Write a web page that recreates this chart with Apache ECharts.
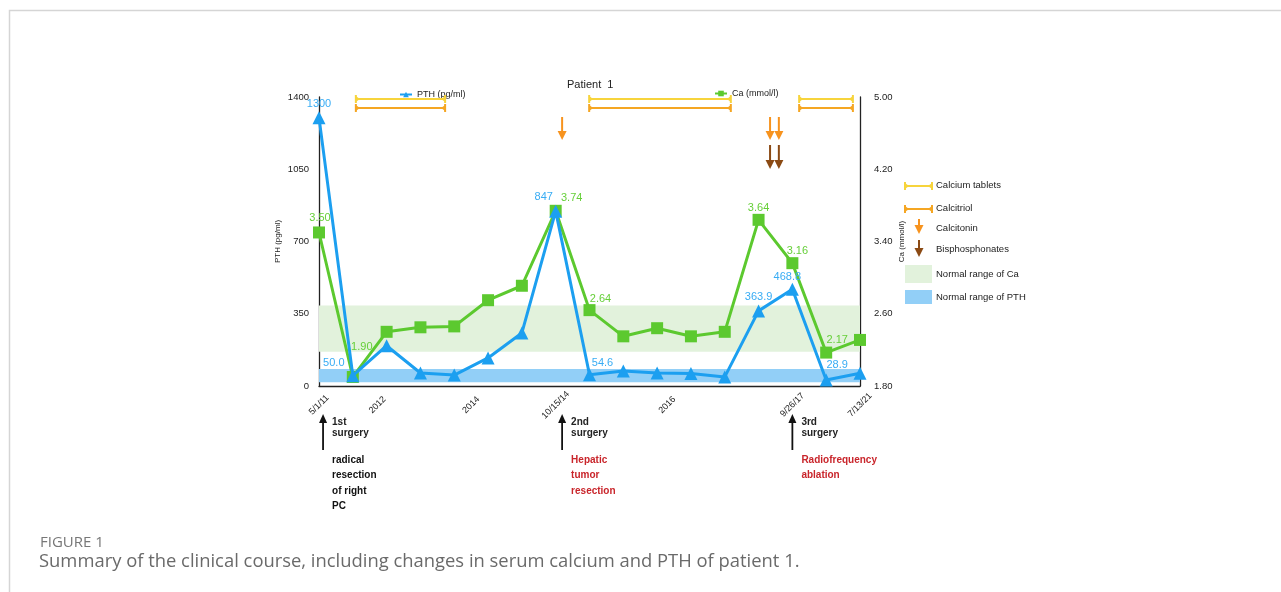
<!DOCTYPE html>
<html><head><meta charset="utf-8">
<script src="https://cdn.jsdelivr.net/npm/echarts@6/dist/echarts.min.js"></script>
<style>html,body{margin:0;padding:0;background:#fff}#c{width:1281px;height:592px}</style>
</head><body><div id="c"></div>
<script>
// ---- data ----
const pth = [1300, 50.0, 195, 63, 53, 136, 257, 847, 54.6, 73, 63, 60, 44, 363.9, 468.8, 28.9, 62];
const ca  = [3.50, 1.90, 2.40, 2.45, 2.46, 2.75, 2.91, 3.74, 2.64, 2.35, 2.44, 2.35, 2.40, 3.64, 3.16, 2.17, 2.31];
const pthLabelIdx = [0, 1, 7, 8, 13, 14, 15];
const caLabelIdx = [0, 1, 7, 8, 13, 14, 15];
const xTickLabels = ['5/1/11', '2012', '2014', '10/15/14', '2016', '9/26/17', '7/13/21'];
const xTickPos = [0, 1.73, 4.5, 7, 10.3, 14, 16];
const caNormal = [2.18, 2.69];
const pthNormal = [18, 82];
const calciumTablets = [[1.09, 3.73], [7.99, 12.18], [14.2, 15.79]];
const calcitriol = [[1.09, 3.73], [7.99, 12.18], [14.2, 15.79]];
const calcitonin = [7.19, 13.34, 13.6];
const bisphosphonates = [13.34, 13.6];
const surgeryPos = [0.12, 7.19, 14.0];
const surgeryNames = ['1st\nsurgery', '2nd\nsurgery', '3rd\nsurgery'];
const procedures = ['radical\nresection\nof right\nPC', 'Hepatic\ntumor\nresection', 'Radiofrequency\nablation'];

// ---- styles ----
const FONT = 'Liberation Sans, Arial, Helvetica, sans-serif';
const BLUE = '#1c9ff0', BLUE_T = '#38acf4';
const GREEN = '#5cc92f', GREEN_T = '#66cf39';
const RED = '#c9252b';
const pthOff = {0: [0, -14], 1: [-19, -13], 7: [-12, -14], 8: [13, -12], 13: [0, -14], 14: [-5, -12], 15: [11, -15]};
const caOff = {0: [1, -15], 1: [9, -30], 7: [16, -13], 8: [11, -11], 13: [0, -12], 14: [5, -12], 15: [11, -13]};
const fmtPth = v => (v >= 100 && Number.isInteger(v)) ? String(v) : v.toFixed(1);

const GL = 319, GT = 97, GR = 421, GB = 206;

const chart = echarts.init(document.getElementById('c'));
const option = {
  backgroundColor: '#fff',
  animation: false,
  textStyle: {fontFamily: FONT},
  title: {text: 'Patient  1', left: 562, top: 74,
    textStyle: {fontFamily: FONT, fontSize: 11, fontWeight: 'normal', color: '#222'}},
  legend: [
    {data: ['PTH (pg/ml)'], left: 394, top: 85, itemWidth: 12, itemHeight: 7, itemGap: 4,
      textStyle: {fontFamily: FONT, fontSize: 9, color: '#222'}},
    {data: ['Ca (mmol/l)'], left: 709, top: 84, itemWidth: 12, itemHeight: 7, itemGap: 4,
      textStyle: {fontFamily: FONT, fontSize: 9, color: '#222'}}
  ],
  grid: {left: GL, top: GT, right: GR, bottom: GB},
  xAxis: {
    type: 'value', min: 0, max: 16,
    axisLine: {show: true, onZero: false, lineStyle: {color: '#222', width: 1.3}},
    axisTick: {show: false}, splitLine: {show: false},
    axisLabel: {
      customValues: xTickPos,
      formatter: v => {
        let best = 0;
        xTickPos.forEach((p, i) => { if (Math.abs(p - v) < Math.abs(xTickPos[best] - v)) best = i; });
        return xTickLabels[best];
      },
      rotate: 45, align: 'center', verticalAlign: 'middle', margin: 19,
      fontSize: 9, color: '#222', fontFamily: FONT, hideOverlap: false
    }
  },
  yAxis: [
    {type: 'value', min: 0, max: 1400, interval: 350, position: 'left',
      name: 'PTH (pg/ml)', nameLocation: 'middle', nameGap: 37, nameRotate: 90,
      nameTextStyle: {fontSize: 8, color: '#222', fontFamily: FONT},
      axisLine: {show: true, lineStyle: {color: '#222', width: 1.3}},
      axisTick: {show: false}, splitLine: {show: false},
      axisLabel: {fontSize: 9.5, color: '#222', margin: 10, fontFamily: FONT, formatter: v => String(v)}},
    {type: 'value', min: 1.8, max: 5.0, interval: 0.8, position: 'right',
      name: 'Ca (mmol/l)', nameLocation: 'middle', nameGap: 38, nameRotate: 90,
      nameTextStyle: {fontSize: 8, color: '#222', fontFamily: FONT},
      axisLine: {show: true, lineStyle: {color: '#222', width: 1.3}},
      axisTick: {show: false}, splitLine: {show: false},
      axisLabel: {fontSize: 9.5, color: '#222', margin: 14, fontFamily: FONT, formatter: v => v.toFixed(2)}}
  ],
  series: [
    {name: 'caBand', type: 'line', yAxisIndex: 1, data: [], z: 1, silent: true,
      markArea: {silent: true, itemStyle: {color: '#e2f2dc'}, data: [[{yAxis: caNormal[0]}, {yAxis: caNormal[1]}]]}},
    {name: 'pthBand', type: 'line', yAxisIndex: 0, data: [], z: 1, silent: true,
      markArea: {silent: true, itemStyle: {color: '#92cff7'}, data: [[{yAxis: pthNormal[0]}, {yAxis: pthNormal[1]}]]}},
    {name: 'Ca (mmol/l)', type: 'line', yAxisIndex: 1, z: 3,
      data: ca.map((v, i) => caLabelIdx.includes(i)
        ? {value: [i, v], label: {show: true, offset: caOff[i]}} : {value: [i, v]}),
      symbol: 'rect', symbolSize: 12, color: GREEN, lineStyle: {width: 3, color: GREEN},
      itemStyle: {color: GREEN},
      label: {show: false, position: 'inside', fontSize: 11, color: GREEN_T, fontFamily: FONT,
        formatter: p => p.value[1].toFixed(2)}},
    {name: 'PTH (pg/ml)', type: 'line', yAxisIndex: 0, z: 4,
      data: pth.map((v, i) => pthLabelIdx.includes(i)
        ? {value: [i, v], label: {show: true, offset: pthOff[i]}} : {value: [i, v]}),
      symbol: 'triangle', symbolSize: 13, color: BLUE, lineStyle: {width: 3, color: BLUE},
      itemStyle: {color: BLUE},
      label: {show: false, position: 'inside', fontSize: 11, color: BLUE_T, fontFamily: FONT,
        formatter: p => fmtPth(p.value[1])}}
  ]
};
chart.setOption(option);

// ---- annotations positioned through the x scale ----
const gx = v => chart.convertToPixel({xAxisIndex: 0}, v);
const g = [];
g.push({type: 'rect', silent: true, z: 0, shape: {x: 9.5, y: 10.5, width: 1300, height: 700},
  style: {fill: 'none', stroke: '#d5d5d5', lineWidth: 1.5}});

function intervalBar(x1, x2, y, color) {
  g.push({type: 'line', z: 10, shape: {x1, y1: y, x2, y2: y}, style: {stroke: color, lineWidth: 2}});
  g.push({type: 'line', z: 10, shape: {x1, y1: y - 4, x2: x1, y2: y + 4}, style: {stroke: color, lineWidth: 2}});
  g.push({type: 'line', z: 10, shape: {x1: x2, y1: y - 4, x2, y2: y + 4}, style: {stroke: color, lineWidth: 2}});
  g.push({type: 'polygon', z: 10, shape: {points: [[x1, y - 3], [x1, y + 3], [x1 + 4, y]]}, style: {fill: color}});
  g.push({type: 'polygon', z: 10, shape: {points: [[x2, y - 3], [x2, y + 3], [x2 - 4, y]]}, style: {fill: color}});
}
function arrowDown(x, y1, y2, color) {
  g.push({type: 'line', z: 10, shape: {x1: x, y1, x2: x, y2: y2 - 7}, style: {stroke: color, lineWidth: 2}});
  g.push({type: 'polygon', z: 10, shape: {points: [[x - 4.5, y2 - 9], [x + 4.5, y2 - 9], [x, y2]]}, style: {fill: color}});
}
function arrowUp(x, y1, y2, color) {
  g.push({type: 'line', z: 10, shape: {x1: x, y1, x2: x, y2: y2 + 7}, style: {stroke: color, lineWidth: 1.8}});
  g.push({type: 'polygon', z: 10, shape: {points: [[x - 4, y2 + 9], [x + 4, y2 + 9], [x, y2]]}, style: {fill: color}});
}
function txt(x, y, text, opt) {
  g.push({type: 'text', z: 10, x, y, style: Object.assign({text, fill: '#222',
    font: '9.5px ' + FONT, verticalAlign: 'middle', align: 'left'}, opt || {})});
}

const CAL_Y = '#f7d43c', CALCITRIOL = '#f5a623', CALCITONIN = '#f7931e', BISPH = '#8b4a14';
calciumTablets.forEach(r => intervalBar(gx(r[0]), gx(r[1]), 99, CAL_Y));
calcitriol.forEach(r => intervalBar(gx(r[0]), gx(r[1]), 108, CALCITRIOL));
calcitonin.forEach(v => arrowDown(gx(v), 117, 140, CALCITONIN));
bisphosphonates.forEach(v => arrowDown(gx(v), 145, 169, BISPH));

surgeryPos.forEach((v, i) => {
  const x = gx(v);
  arrowUp(x, 450, 414, '#111');
  g.push({type: 'text', z: 10, x: x + 9, y: 417, style: {text: surgeryNames[i], fill: '#222',
    font: 'bold 10px ' + FONT, lineHeight: 11, verticalAlign: 'top', align: 'left'}});
  g.push({type: 'text', z: 10, x: x + 9, y: 452.5, style: {text: procedures[i], fill: i === 0 ? '#111' : RED,
    font: 'bold 10px ' + FONT, lineHeight: 15.3, verticalAlign: 'top', align: 'left'}});
});

// right legend
intervalBar(905, 932, 186, CAL_Y);
txt(936, 185, 'Calcium tablets');
intervalBar(905, 932, 209, CALCITRIOL);
txt(936, 208, 'Calcitriol');
arrowDown(919, 219, 234, CALCITONIN);
txt(936, 228, 'Calcitonin');
arrowDown(919, 240, 257, BISPH);
txt(936, 249, 'Bisphosphonates');
g.push({type: 'rect', z: 10, shape: {x: 905, y: 265, width: 27, height: 18}, style: {fill: '#e2f2dc'}});
txt(936, 274, 'Normal range of Ca');
g.push({type: 'rect', z: 10, shape: {x: 905, y: 290, width: 27, height: 14}, style: {fill: '#92cff7'}});
txt(936, 297, 'Normal range of PTH');

// caption
g.push({type: 'text', z: 10, x: 40, y: 543, style: {text: 'FIGURE 1', fill: '#777',
  font: '15px "Open Sans", sans-serif', verticalAlign: 'middle'}});
g.push({type: 'text', z: 10, x: 39, y: 562, style: {text: 'Summary of the clinical course, including changes in serum calcium and PTH of patient 1.',
  fill: '#6a6a6a', font: '18.4px "Open Sans", sans-serif', verticalAlign: 'middle'}});

chart.setOption({graphic: g});
</script>
</body></html>
